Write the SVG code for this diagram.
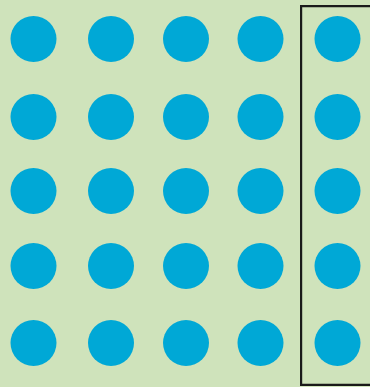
<svg xmlns="http://www.w3.org/2000/svg" width="370" height="387" viewBox="0 0 370 387">
<style>
.dot{fill:#00a8d6}
.frame{fill:none;stroke:#1a1a1a;stroke-width:2.2}
</style>
<defs><circle id="d" r="23" class="dot"/></defs>
<rect width="370" height="387" fill="#cfe3bb"/>
<g id="dots">
<use href="#d" x="33.5" y="39"/><use href="#d" x="111" y="39"/><use href="#d" x="186" y="39"/><use href="#d" x="260.5" y="39"/><use href="#d" x="337.5" y="39"/>
<use href="#d" x="33.5" y="117"/><use href="#d" x="111" y="117"/><use href="#d" x="186" y="117"/><use href="#d" x="260.5" y="117"/><use href="#d" x="337.5" y="117"/>
<use href="#d" x="33.5" y="191"/><use href="#d" x="111" y="191"/><use href="#d" x="186" y="191"/><use href="#d" x="260.5" y="191"/><use href="#d" x="337.5" y="191"/>
<use href="#d" x="33.5" y="266"/><use href="#d" x="111" y="266"/><use href="#d" x="186" y="266"/><use href="#d" x="260.5" y="266"/><use href="#d" x="337.5" y="266"/>
<use href="#d" x="33.5" y="343"/><use href="#d" x="111" y="343"/><use href="#d" x="186" y="343"/><use href="#d" x="260.5" y="343"/><use href="#d" x="337.5" y="343"/>
</g>
<g id="frame">
<path class="frame" d="M372 6.1H301.1V384.9H372"/>
</g>
</svg>
